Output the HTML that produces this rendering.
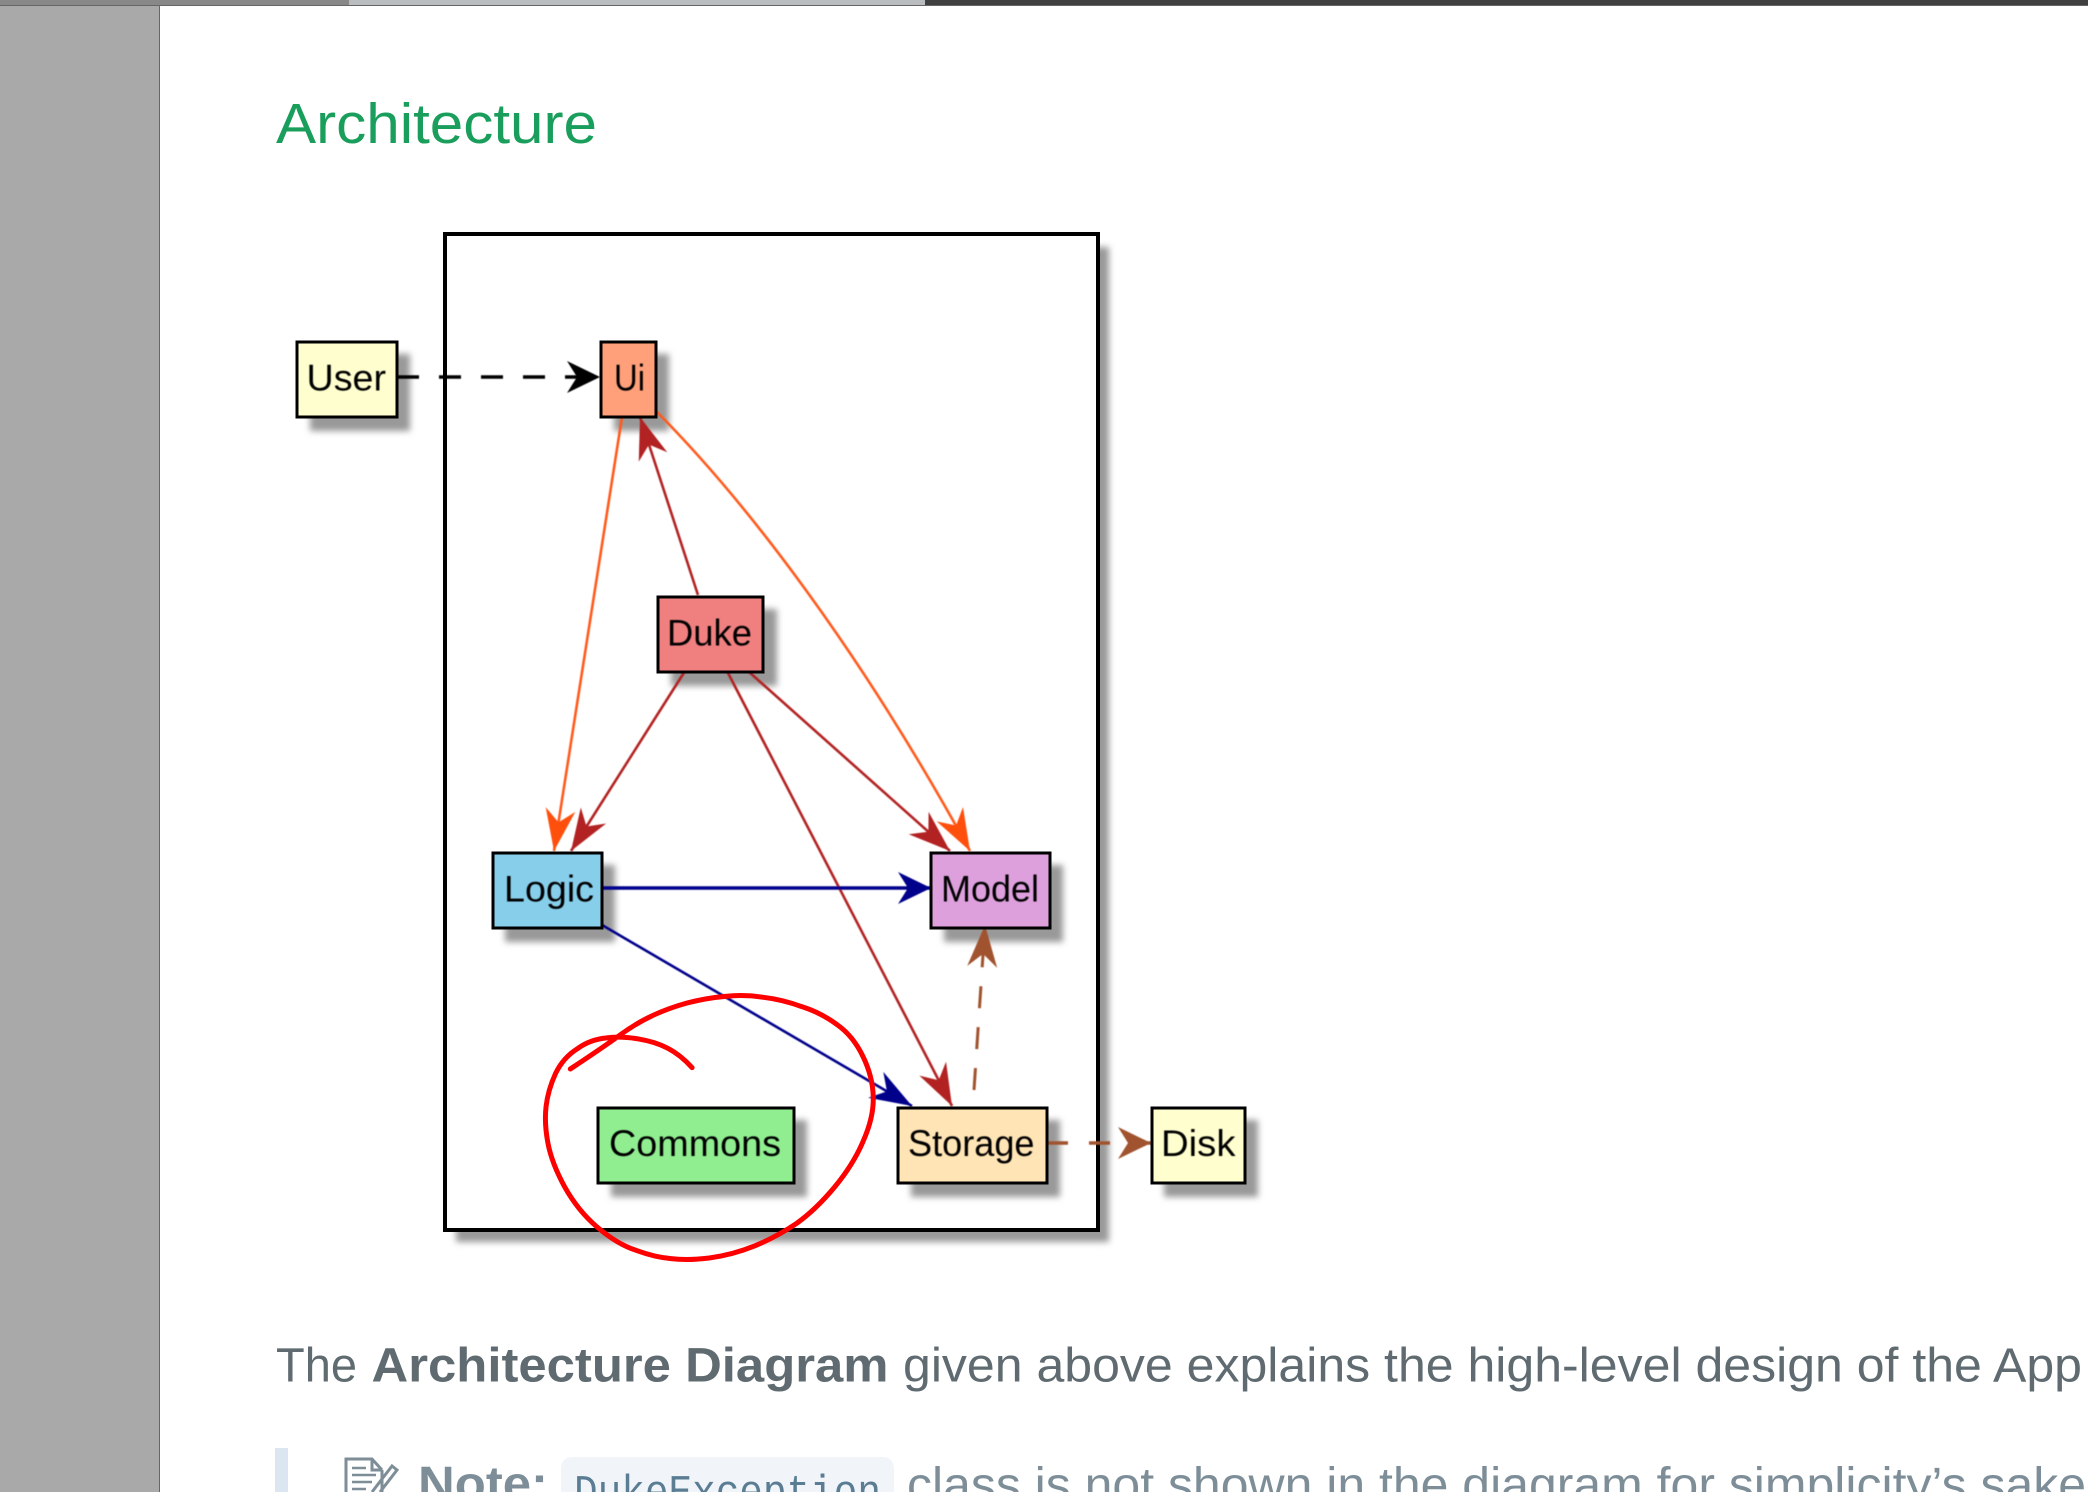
<!DOCTYPE html>
<html><head><meta charset="utf-8"><style>
html,body{margin:0;padding:0;background:#fff;width:2088px;height:1492px;overflow:hidden}
svg{display:block}
text{font-family:"Liberation Sans",sans-serif}
.l{font-size:37px;fill:#000}
.t{font-size:48px;fill:#5f6b70}
.n{font-size:48px;fill:#7d8e98}
</style></head><body>
<svg xmlns="http://www.w3.org/2000/svg" width="2088" height="1492" viewBox="0 0 2088 1492">
<defs>
<filter id="s" x="-30%" y="-30%" width="160%" height="160%"><feGaussianBlur stdDeviation="3.2"/></filter>
<filter id="b" x="-5%" y="-5%" width="110%" height="110%"><feGaussianBlur stdDeviation="0.5"/></filter>
<marker id="vO" markerUnits="userSpaceOnUse" viewBox="-46 -20 48 40" refX="0" refY="0" markerWidth="48" markerHeight="40" orient="auto"><polygon points="0,0 -42,-15 -29,0 -42,15" fill="#ff4f0f"/></marker>
<marker id="vF" markerUnits="userSpaceOnUse" viewBox="-46 -20 48 40" refX="0" refY="0" markerWidth="48" markerHeight="40" orient="auto"><polygon points="0,0 -42,-15 -29,0 -42,15" fill="#b22222"/></marker>
<marker id="vS" markerUnits="userSpaceOnUse" viewBox="-46 -20 48 40" refX="0" refY="0" markerWidth="48" markerHeight="40" orient="auto"><polygon points="0,0 -42,-15 -29,0 -42,15" fill="#a0522d"/></marker>
<marker id="vN" markerUnits="userSpaceOnUse" viewBox="-46 -20 48 40" refX="0" refY="0" markerWidth="48" markerHeight="40" orient="auto"><polygon points="0,0 -42,-15 -29,0 -42,15" fill="#00008b"/></marker>
<marker id="hK" markerUnits="userSpaceOnUse" viewBox="-36 -20 38 40" refX="0" refY="0" markerWidth="38" markerHeight="40" orient="auto"><polygon points="0,0 -33,-16 -23,0 -33,16" fill="#000"/></marker>
<marker id="hN" markerUnits="userSpaceOnUse" viewBox="-36 -20 38 40" refX="0" refY="0" markerWidth="38" markerHeight="40" orient="auto"><polygon points="0,0 -33,-16 -23,0 -33,16" fill="#00008b"/></marker>
<marker id="hS" markerUnits="userSpaceOnUse" viewBox="-36 -20 38 40" refX="0" refY="0" markerWidth="38" markerHeight="40" orient="auto"><polygon points="0,0 -33,-16 -23,0 -33,16" fill="#a0522d"/></marker>
</defs>

<!-- chrome -->
<rect x="0" y="0" width="349" height="5" fill="#888"/>
<rect x="349" y="0" width="576" height="5" fill="#b9bdc0"/>
<rect x="925" y="0" width="1163" height="5" fill="#404040"/>
<rect x="0" y="5" width="2088" height="1" fill="#666"/>
<rect x="0" y="6" width="159" height="1486" fill="#a9a9a9"/>
<rect x="159" y="6" width="1" height="1486" fill="#666"/>

<text x="276" y="143" font-size="57" fill="#1a9e5c" textLength="321" lengthAdjust="spacingAndGlyphs">Architecture</text>

<!-- outer box -->
<rect x="456" y="247" width="653" height="995" fill="#999" filter="url(#s)"/>
<rect x="445" y="234" width="653" height="996" fill="#fff" stroke="#000" stroke-width="4"/>

<!-- node shadows -->
<g fill="#999" filter="url(#s)">
<rect x="310" y="354" width="100" height="77"/>
<rect x="614" y="354" width="55" height="77"/>
<rect x="671" y="609" width="106" height="77"/>
<rect x="505" y="865" width="110" height="77"/>
<rect x="944" y="865" width="119" height="77"/>
<rect x="611" y="1120" width="196" height="77"/>
<rect x="911" y="1120" width="149" height="77"/>
<rect x="1164" y="1120" width="94" height="77"/>
</g>

<!-- connectors -->
<g fill="none" stroke-width="2.6" filter="url(#b)">
<line x1="397" y1="377" x2="600" y2="377" stroke="#000" stroke-width="3.4" stroke-dasharray="22 20" marker-end="url(#hK)"/>
<line x1="622" y1="417" x2="554" y2="851" stroke="#ff5a1f" marker-end="url(#vO)"/>
<line x1="698" y1="595" x2="640" y2="417" stroke="#b22222" marker-end="url(#vF)"/>
<path d="M655 410 C745 500 860 650 970 851" stroke="#ff5a1f" marker-end="url(#vO)"/>
<line x1="685" y1="671" x2="571" y2="851" stroke="#b22222" marker-end="url(#vF)"/>
<line x1="748" y1="671" x2="950" y2="851" stroke="#b22222" marker-end="url(#vF)"/>
<line x1="727" y1="671" x2="952" y2="1106" stroke="#b22222" marker-end="url(#vF)"/>
<line x1="602" y1="888" x2="931" y2="888" stroke="#00008b" stroke-width="3.4" marker-end="url(#hN)"/>
<line x1="602" y1="925" x2="912" y2="1106" stroke="#00008b" marker-end="url(#vN)"/>
<line x1="974" y1="1090" x2="985" y2="925" stroke="#a0522d" stroke-width="3" stroke-dasharray="22 19" marker-end="url(#vS)"/>
<line x1="1047" y1="1143" x2="1151" y2="1143" stroke="#a0522d" stroke-width="3.4" stroke-dasharray="21 21" marker-end="url(#hS)"/>
</g>

<!-- nodes -->
<g stroke="#000" stroke-width="3">
<rect x="297" y="342" width="100" height="75" fill="#fefece"/>
<rect x="601" y="342" width="55" height="75" fill="#ffa07a"/>
<rect x="658" y="597" width="105" height="75" fill="#f08080"/>
<rect x="493" y="853" width="109" height="75" fill="#87ceeb"/>
<rect x="931" y="853" width="119" height="75" fill="#dda0dd"/>
<rect x="598" y="1108" width="196" height="75" fill="#90ee90"/>
<rect x="898" y="1108" width="149" height="75" fill="#ffe4b5"/>
<rect x="1152" y="1108" width="93" height="75" fill="#fefece"/>
</g>
<g filter="url(#b)">
<text class="l" x="306.5" y="390.5" textLength="79.5" lengthAdjust="spacingAndGlyphs">User</text>
<text class="l" x="614" y="390.5" textLength="31" lengthAdjust="spacingAndGlyphs">Ui</text>
<text class="l" x="667" y="645.5" textLength="85" lengthAdjust="spacingAndGlyphs">Duke</text>
<text class="l" x="504" y="901.5" textLength="90" lengthAdjust="spacingAndGlyphs">Logic</text>
<text class="l" x="941" y="901.5" textLength="98" lengthAdjust="spacingAndGlyphs">Model</text>
<text class="l" x="609" y="1156" textLength="172" lengthAdjust="spacingAndGlyphs">Commons</text>
<text class="l" x="908" y="1156" textLength="126.5" lengthAdjust="spacingAndGlyphs">Storage</text>
<text class="l" x="1161" y="1156" textLength="74.5" lengthAdjust="spacingAndGlyphs">Disk</text>
</g>

<!-- red annotation -->
<g transform="translate(400,950) scale(.6378,.3333)">
<path vector-effect="non-scaling-stroke" fill="none" stroke="#ff0000" stroke-width="5" stroke-linecap="round" stroke-linejoin="round" d="M458 353 Q440 315 420 295 Q400 275 372.5 266.5 Q345 258 322.5 264 Q298 269 279 295 Q256 322 244 370 Q232 420 229 470 Q226 520 232 580 Q238 640 258 710 Q279 782 309 831 Q340 882 370 901 Q400 922 425 926 Q450 932 485 924 Q521 915 556 888 Q591 860 622 820 Q652 779 682 710 Q712 640 727 570 Q743 500 742 440 Q741 379 726 320 Q711 259 686 225 Q661 189 630 170 Q600 149 570 142 Q540 133 510 139 Q480 144 450 159 Q420 175 395 197.5 Q370 220 345 255 Q320 290 267 357"/>
</g>

<!-- paragraph -->
<text class="t" x="276" y="1381.5" textLength="81" lengthAdjust="spacingAndGlyphs">The</text>
<text class="t" x="371.5" y="1381.5" font-weight="bold" textLength="517" lengthAdjust="spacingAndGlyphs">Architecture Diagram</text>
<text class="t" x="903" y="1381.5" textLength="1179" lengthAdjust="spacingAndGlyphs">given above explains the high-level design of the App</text>
<text class="t" x="2084" y="1381.5">.</text>

<!-- note -->
<rect x="275" y="1448" width="13" height="44" fill="#dce6f1"/>
<g fill="none" stroke="#7d8e98" stroke-width="3">
<path d="M382 1470 L372 1459 L346 1459 L346 1492 M382 1470 L382 1492 M372 1459 L372 1470 L382 1470"/>
<path d="M352 1468 H366 M352 1475 H376 M352 1482 H372 M352 1489 H366" stroke-width="2.5"/>
<path d="M372 1492 L392 1466 L397 1470 L380 1492"/>
</g>
<text class="n" x="418" y="1500" font-weight="bold" textLength="130" lengthAdjust="spacingAndGlyphs">Note:</text>
<path d="M573 1457 H882 Q894 1457 894 1469 V1492 H561 V1469 Q561 1457 573 1457 Z" fill="#f1f5fa"/>
<text x="574" y="1505" font-size="44" fill="#5a7d94" textLength="307" lengthAdjust="spacingAndGlyphs" style="font-family:'Liberation Mono',monospace">DukeException</text>
<text class="n" x="907" y="1501" textLength="1179" lengthAdjust="spacingAndGlyphs">class is not shown in the diagram for simplicity’s sake</text>
</svg>
</body></html>
